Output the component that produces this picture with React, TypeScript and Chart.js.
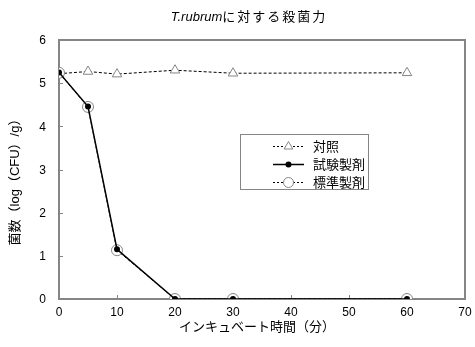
import React, { useEffect, useRef } from 'react';
import { Chart, registerables } from 'chart.js';

Chart.register(...registerables);

const times = [0, 5, 10, 20, 30, 60];
const controlValues = [5.22, 5.27, 5.21, 5.3, 5.23, 5.24];
const testValues = [5.25, 4.46, 1.15, 0, 0, 0];
const standardValues = [5.24, 4.45, 1.13, 0, 0, 0];
const seriesNames = ['対照', '試験製剤', '標準製剤'];
const xTickValues = [0, 10, 20, 30, 40, 50, 60, 70];
const yTickValues = [0, 1, 2, 3, 4, 5, 6];
const titleItalic = 'T.rubrum';
const titleRest = 'に対する殺菌力';
const xTitle = 'インキュベート時間（分）';
const yTitle = '菌数（log（CFU）/g）';

const FONT = '"Liberation Sans", "Noto Sans CJK JP", sans-serif';
const GRAY = '#858585';

function drawMarker(ctx: CanvasRenderingContext2D, kind: string, x: number, y: number) {
  ctx.save();
  ctx.setLineDash([]);
  if (kind === 'triangle') {
    const r = 5;
    ctx.beginPath();
    ctx.moveTo(x, y - r);
    ctx.lineTo(x + r * 0.866, y + r * 0.5);
    ctx.lineTo(x - r * 0.866, y + r * 0.5);
    ctx.closePath();
    ctx.fillStyle = '#fff';
    ctx.fill();
    ctx.strokeStyle = GRAY;
    ctx.lineWidth = 1;
    ctx.stroke();
  } else if (kind === 'dot') {
    ctx.beginPath();
    ctx.arc(x, y, 3, 0, Math.PI * 2);
    ctx.fillStyle = '#000';
    ctx.fill();
  } else {
    ctx.beginPath();
    ctx.arc(x, y, 5, 0, Math.PI * 2);
    ctx.fillStyle = '#fff';
    ctx.fill();
    ctx.strokeStyle = GRAY;
    ctx.lineWidth = 1;
    ctx.stroke();
  }
  ctx.restore();
}

const decorPlugin = {
  id: 'decor',
  beforeDatasetsDraw(chart: any) {
    const { ctx, chartArea } = chart;
    const xs = chart.scales.x;
    const ys = chart.scales.y;
    ctx.save();
    ctx.strokeStyle = GRAY;
    ctx.lineWidth = 1;
    for (let v = 10; v < 70; v += 10) {
      const px = Math.round(xs.getPixelForValue(v)) + 0.5;
      ctx.beginPath();
      ctx.moveTo(px, chartArea.bottom);
      ctx.lineTo(px, chartArea.bottom - 4);
      ctx.stroke();
    }
    for (let v = 1; v < 6; v++) {
      const py = Math.round(ys.getPixelForValue(v)) + 0.5;
      ctx.beginPath();
      ctx.moveTo(chartArea.left, py);
      ctx.lineTo(chartArea.left + 4, py);
      ctx.stroke();
    }
    ctx.lineWidth = 2;
    ctx.strokeRect(chartArea.left, chartArea.top, chartArea.right - chartArea.left, chartArea.bottom - chartArea.top);

    // tick labels
    ctx.fillStyle = '#000';
    ctx.font = '12px ' + FONT;
    ctx.textAlign = 'right';
    ctx.textBaseline = 'middle';
    yTickValues.forEach((v) => {
      ctx.fillText(String(v), 46, ys.getPixelForValue(v) + 1);
    });
    ctx.textAlign = 'center';
    xTickValues.forEach((v) => {
      ctx.fillText(String(v), xs.getPixelForValue(v), 313);
    });
    // axis titles
    ctx.font = '13px ' + FONT;
    ctx.fillText(xTitle, 257, 327);
    ctx.save();
    ctx.translate(15, 179);
    ctx.rotate(-Math.PI / 2);
    ctx.fillText(yTitle, 0, 0);
    ctx.restore();
    ctx.restore();
  },
  afterDraw(chart: any) {
    const { ctx } = chart;
    ctx.save();
    // title
    ctx.textBaseline = 'middle';
    ctx.fillStyle = '#000';
    const italicFont = 'italic 13px ' + FONT;
    const normalFont = '13px ' + FONT;
    ctx.font = italicFont;
    const w1 = ctx.measureText(titleItalic).width;
    ctx.font = normalFont;
    (ctx as any).letterSpacing = '2px';
    const w2 = ctx.measureText(titleRest).width;
    const startX = 249 - (w1 + w2) / 2;
    (ctx as any).letterSpacing = '0px';
    ctx.font = italicFont;
    ctx.textAlign = 'left';
    ctx.fillText(titleItalic, startX, 17);
    ctx.font = normalFont;
    (ctx as any).letterSpacing = '2px';
    ctx.fillText(titleRest, startX + w1, 17);
    (ctx as any).letterSpacing = '0px';

    // legend
    const bx = 240, by = 134, bw = 128, bh = 55;
    ctx.strokeStyle = GRAY;
    ctx.lineWidth = 1;
    ctx.strokeRect(bx + 0.5, by + 0.5, bw, bh);
    const rows = [146, 164, 182];
    const kinds = ['triangle', 'dot', 'circle'];
    rows.forEach((ry, i) => {
      ctx.save();
      ctx.strokeStyle = '#000';
      if (i === 1) {
        ctx.lineWidth = 1.5;
        ctx.setLineDash([]);
      } else {
        ctx.lineWidth = 1;
        ctx.setLineDash([2, 2]);
      }
      ctx.beginPath();
      ctx.moveTo(273, ry + 0.5);
      ctx.lineTo(304, ry + 0.5);
      ctx.stroke();
      ctx.restore();
      drawMarker(ctx, kinds[i], 288.5, ry + 0.5);
      ctx.fillStyle = '#000';
      ctx.font = '13px ' + FONT;
      ctx.textAlign = 'left';
      ctx.textBaseline = 'middle';
      ctx.fillText(seriesNames[i], 313, ry + 1);
    });
    ctx.restore();
  },
};

export default function App() {
  const ref = useRef<HTMLCanvasElement | null>(null);
  useEffect(() => {
    document.body.style.margin = '0';
    const canvas = ref.current;
    if (!canvas) return;
    const chart = new Chart(canvas, {
      type: 'line',
      data: {
        datasets: [
          {
            label: seriesNames[0],
            data: times.map((t, i) => ({ x: t, y: controlValues[i] })),
            borderColor: '#000',
            borderWidth: 1,
            borderDash: [3, 2],
            pointStyle: 'triangle',
            pointRadius: 5.5,
            pointBackgroundColor: '#fff',
            pointBorderColor: GRAY,
            pointBorderWidth: 1,
            order: 3,
          },
          {
            label: seriesNames[1],
            data: times.map((t, i) => ({ x: t, y: testValues[i] })),
            borderColor: '#000',
            borderWidth: 1.5,
            pointStyle: 'circle',
            pointRadius: 3,
            pointBackgroundColor: '#000',
            pointBorderColor: '#000',
            pointBorderWidth: 0,
            order: 1,
          },
          {
            label: seriesNames[2],
            data: times.map((t, i) => ({ x: t, y: standardValues[i] })),
            borderColor: '#000',
            borderWidth: 1,
            borderDash: [3, 2],
            pointStyle: 'circle',
            pointRadius: 5.5,
            pointBackgroundColor: '#fff',
            pointBorderColor: GRAY,
            pointBorderWidth: 1,
            order: 2,
          },
        ],
      },
      options: {
        responsive: false,
        animation: false,
        events: [],
        layout: { padding: { top: 40, right: 10, left: 0, bottom: 0 } },
        plugins: {
          legend: { display: false },
          title: { display: false },
          tooltip: { enabled: false },
        },
        scales: {
          x: {
            type: 'linear',
            min: 0,
            max: 70,
            ticks: { stepSize: 10, display: false },
            grid: { display: false, drawTicks: false },
            border: { display: false },
            title: { display: false },
            afterFit: (s: any) => {
              s.height = 48;
            },
          },
          y: {
            type: 'linear',
            min: 0,
            max: 6,
            ticks: { stepSize: 1, display: false },
            grid: { display: false, drawTicks: false },
            border: { display: false },
            title: { display: false },
            afterFit: (s: any) => {
              s.width = 59;
            },
          },
        },
      },
      plugins: [decorPlugin],
    } as any);
    return () => chart.destroy();
  }, []);
  return <canvas ref={ref} width={475} height={347} style={{ display: 'block' }} />;
}
